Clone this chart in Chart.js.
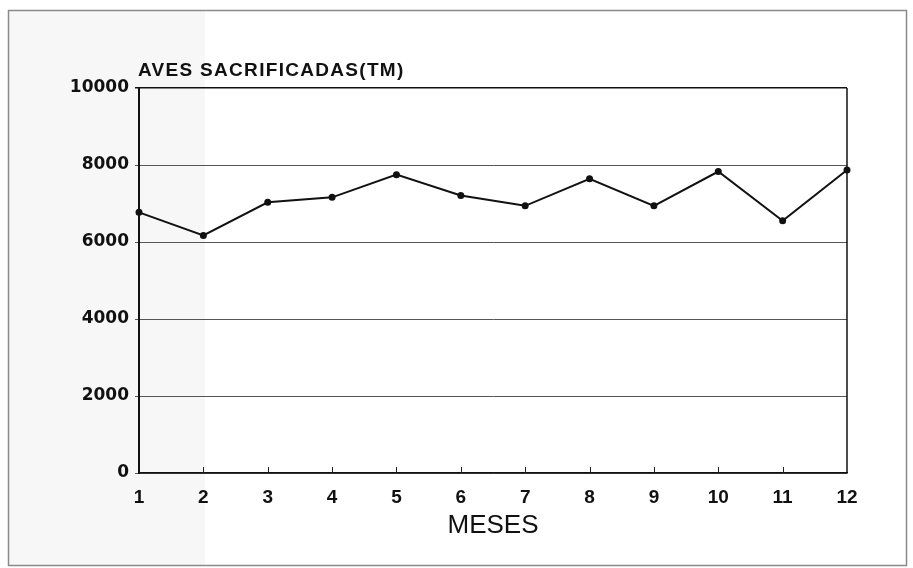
<!DOCTYPE html>
<html>
<head>
<meta charset="utf-8">
<script src="https://cdn.jsdelivr.net/npm/chart.js@4/dist/chart.umd.min.js"></script>
<style>
  body { margin: 0; background: #fff; }
  canvas { display: block; }
</style>
</head>
<body>
<canvas id="grafico" width="913" height="568"></canvas>
<script>
// Datos
const meses = ['1', '2', '3', '4', '5', '6', '7', '8', '9', '10', '11', '12'];
const avesSacrificadas = [6770, 6170, 7030, 7160, 7750, 7210, 6940, 7640, 6940, 7830, 6550, 7870];
const ejeYMin = 0;
const ejeYMax = 10000;
const ejeYPaso = 2000;
const tituloGrafico = 'AVES SACRIFICADAS(TM)';
const tituloEjeX = 'MESES';

// Marco, titulo, borde derecho y marcas del eje X hacia adentro
const decoracion = {
    id: 'decoracion',
    beforeDraw(chart) {
        const ctx = chart.ctx;
        ctx.save();
        ctx.fillStyle = '#f7f7f7';
        ctx.fillRect(9, 11, 196, 554);
        ctx.strokeStyle = '#8a8a8a';
        ctx.lineWidth = 1.5;
        ctx.strokeRect(8.5, 10.5, 898, 555);
        ctx.restore();
    },
    afterDraw(chart) {
        const ctx = chart.ctx;
        const area = chart.chartArea;
        const x = chart.scales.x;
        ctx.save();
        // borde derecho
        ctx.strokeStyle = '#111';
        ctx.lineWidth = 1.5;
        ctx.beginPath();
        ctx.moveTo(area.right, area.top);
        ctx.lineTo(area.right, area.bottom);
        ctx.stroke();
        // marcas del eje X
        ctx.lineWidth = 1;
        ctx.strokeStyle = '#222';
        for (let i = 1; i < meses.length - 1; i++) {
            const px = Math.round(x.getPixelForTick(i)) + 0.5;
            ctx.beginPath();
            ctx.moveTo(px, area.bottom);
            ctx.lineTo(px, area.bottom - 6);
            ctx.stroke();
        }
        // titulo
        ctx.fillStyle = '#111';
        ctx.font = 'bold 19px "Liberation Sans", Arial';
        ctx.letterSpacing = '1.3px';
        ctx.textAlign = 'left';
        ctx.textBaseline = 'alphabetic';
        ctx.fillText(tituloGrafico, area.left - 1, 76);
        ctx.letterSpacing = '0px';
        ctx.restore();
    }
};

const grafico = new Chart(document.getElementById('grafico'), {
    type: 'line',
    data: {
        labels: meses,
        datasets: [{
            data: avesSacrificadas,
            borderColor: '#111',
            borderWidth: 2,
            pointRadius: 2.5,
            pointBackgroundColor: '#111',
            pointBorderColor: '#111',
            tension: 0,
            fill: false,
        }],
    },
    options: {
        responsive: false,
        devicePixelRatio: 1,
        animation: false,
        layout: {
            padding: { top: 88, right: 66, bottom: 27, left: 0 },
        },
        plugins: {
            legend: { display: false },
            tooltip: { enabled: false },
        },
        scales: {
            x: {
                offset: false,
                grid: { display: false, drawTicks: false },
                border: { display: true, color: '#111', width: 1.5 },
                ticks: {
                    color: '#111',
                    padding: 13,
                    maxRotation: 0,
                    font: { family: '"Liberation Sans", Arial, sans-serif', size: 19, weight: 'bold' },
                },
                title: {
                    display: true,
                    text: tituloEjeX,
                    color: '#111',
                    padding: 0,
                    font: { family: '"Liberation Sans", Arial, sans-serif', size: 26, weight: 'normal' },
                },
                afterFit(scale) { scale.height = 68; },
            },
            y: {
                min: ejeYMin,
                max: ejeYMax,
                grid: {
                    color: (c) => c.tick && c.tick.value === ejeYMax ? '#111' : '#555',
                    lineWidth: (c) => c.tick && c.tick.value === ejeYMax ? 1.5 : 1,
                    tickLength: 4,
                },
                border: { display: true, color: '#111', width: 2 },
                ticks: {
                    stepSize: ejeYPaso,
                    color: '#111',
                    padding: 6,
                    font: { family: '"DejaVu Sans", sans-serif', size: 17, weight: 'bold' },
                    callback: (v) => String(v),
                },
                afterFit(scale) { scale.width = 139; },
            },
        },
    },
    plugins: [decoracion],
});
</script>
</body>
</html>
